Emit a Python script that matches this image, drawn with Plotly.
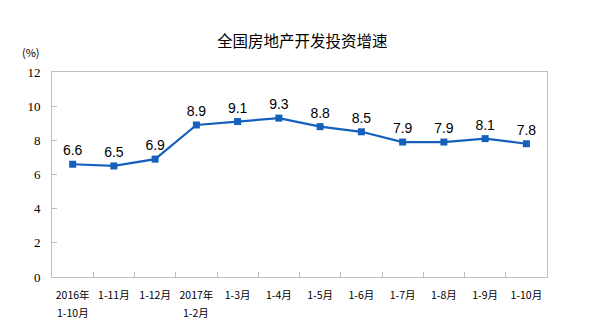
import plotly.graph_objects as go

categories = ["2016年 1-10月", "1-11月", "1-12月", "2017年 1-2月", "1-3月", "1-4月",
              "1-5月", "1-6月", "1-7月", "1-8月", "1-9月", "1-10月"]
# tick label: first line shown on the axis, second line (if any) shown below it
tick_line1 = ["2016年", "1-11月", "1-12月", "2017年", "1-3月", "1-4月",
              "1-5月", "1-6月", "1-7月", "1-8月", "1-9月", "1-10月"]
tick_line2 = ["1-10月", "", "", "1-2月", "", "", "", "", "", "", "", ""]
values = [6.6, 6.5, 6.9, 8.9, 9.1, 9.3, 8.8, 8.5, 7.9, 7.9, 8.1, 7.8]
y_ticks = [0, 2, 4, 6, 8, 10, 12]

line_color = "#1560BD"
axis_color = "#BFBFBF"
L, R, T, B, W, H = 52, 58, 72, 55, 605, 332
pw, ph = W - L - R, H - T - B

def py(p):
    return (H - B - p) / ph

def pxp(p):
    return (p - L) / pw

fig = go.Figure()
fig.add_trace(go.Scatter(
    x=categories, y=values, mode="lines+markers+text",
    line=dict(color=line_color, width=2.2),
    marker=dict(symbol="square", size=7, color=line_color),
    text=[f"{v:.1f}" for v in values], textposition="top center",
    textfont=dict(family="Liberation Sans, Arial", size=14, color="#000000"),
    cliponaxis=False, showlegend=False,
))

annotations = [
    dict(text="全国房地产开发投资增速", x=pxp(302), y=py(40), xref="paper", yref="paper",
         xanchor="center", yanchor="middle", showarrow=False,
         font=dict(family="Noto Sans CJK SC", size=15.5, color="#000000")),
    dict(text="(%)", x=pxp(31), y=py(52), xref="paper", yref="paper",
         xanchor="center", yanchor="middle", showarrow=False,
         font=dict(family="Noto Sans CJK SC", size=11, color="#000000")),
]
for c, t2 in zip(categories, tick_line2):
    if t2:
        annotations.append(dict(text=t2, x=c, xref="x", y=py(312), yref="paper",
                                xanchor="center", yanchor="middle", showarrow=False,
                                font=dict(family="Noto Sans CJK SC", size=10.5, color="#000000")))

fig.update_layout(
    width=W, height=H,
    margin=dict(l=L, r=R, t=T, b=B, autoexpand=False),
    paper_bgcolor="white", plot_bgcolor="white",
    xaxis=dict(
        type="category", range=[-0.5, len(categories) - 0.5],
        tickmode="array", tickvals=categories, ticktext=tick_line1,
        tickson="boundaries", ticks="inside", ticklen=5,
        tickcolor=axis_color, showline=True, linecolor=axis_color, linewidth=1,
        mirror=True, showgrid=False, zeroline=False, tickangle=0, automargin=False,
        tickfont=dict(family="Noto Sans CJK SC", size=10.5, color="#000000"),
        ticklabelstandoff=8,
    ),
    yaxis=dict(
        range=[0, 12], tickvals=y_ticks, ticks="inside", ticklen=5,
        tickcolor=axis_color, showline=True, linecolor=axis_color, linewidth=1,
        mirror=True, showgrid=False, zeroline=False, automargin=False,
        tickfont=dict(family="Liberation Serif, Times New Roman", size=13, color="#000000"),
        ticklabelstandoff=8,
    ),
    annotations=annotations,
)

fig.write_html("out.html")
